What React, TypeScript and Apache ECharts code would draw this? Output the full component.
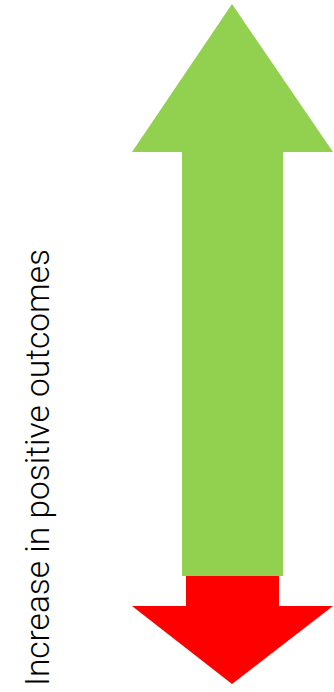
import React, { useEffect, useRef } from "react";
import * as echarts from "echarts";

const labelText = ["Increase in positive outcomes"];
const arrowColors = ["#92D050", "#FF0000"];

export default function App() {
  const ref = useRef<HTMLDivElement>(null);
  useEffect(() => {
    if (!ref.current) return;
    const chart = echarts.init(ref.current, null, { renderer: "svg" });
    chart.setOption({
      animation: false,
      graphic: [
        {
          type: "polygon",
          shape: {
            points: [
              [232, 4], [333, 152], [283, 152], [283, 576],
              [182, 576], [182, 152], [132, 152],
            ],
          },
          style: { fill: arrowColors[0] },
        },
        {
          type: "polygon",
          shape: {
            points: [
              [186, 576], [279, 576], [279, 606], [333, 606],
              [232, 684], [132, 606], [186, 606],
            ],
          },
          style: { fill: arrowColors[1] },
        },
        {
          type: "text",
          x: 54,
          y: 249,
          rotation: Math.PI / 2,
          style: {
            text: labelText[0],
            fontFamily: "Roboto",
            fontWeight: 300,
            fontSize: 33.5,
            fill: "#000",
            textAlign: "right",
            textVerticalAlign: "bottom",
          },
        },
      ],
    });
    return () => chart.dispose();
  }, []);
  return (
    <div
      ref={ref}
      style={{ position: "absolute", left: 0, top: 0, width: 334, height: 692 }}
    />
  );
}
